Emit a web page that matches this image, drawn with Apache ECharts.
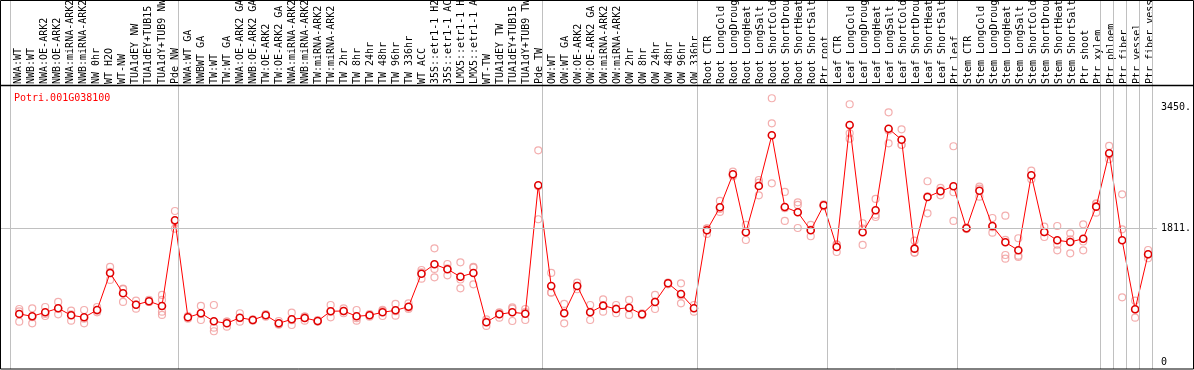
<!DOCTYPE html>
<html>
<head>
<meta charset="utf-8">
<script src="https://cdn.jsdelivr.net/npm/echarts@6/dist/echarts.min.js"></script>
<style>html,body{margin:0;padding:0;background:#fff}#c{width:1194px;height:370px}</style>
</head>
<body>
<div id="c"></div>
<script>
const title = 'Potri.001G038100';
const categories = [
 'NWA:WT','NWB:WT','NWA:OE-ARK2','NWB:OE-ARK2','NWA:miRNA-ARK2','NWB:miRNA-ARK2','NW 0hr','WT H2O','WT-NW','TUA1dEY NW','TUA1dEY+TUB15 NW','TUA1dY+TUB9 NW','Pde NW',
 'NWA:WT GA','NWBWT GA','TW:WT','TW:WT GA','NWA:OE-ARK2 GA','NWB:OE-ARK2 GA','TW:OE-ARK2','TW:OE-ARK2 GA','NWA:miRNA-ARK2 GA','NWB:miRNA-ARK2 GA','TW:miRNA-ARK2','TW:miRNA-ARK2 GA','TW 2hr','TW 8hr','TW 24hr','TW 48hr','TW 96hr','TW 336hr','WT ACC','35S::etr1-1 H2O','35S::etr1-1 ACC','LMX5::etr1-1 H2O','LMX5::etr1-1 ACC','WT-TW','TUA1dEY TW','TUA1dEY+TUB15 TW','TUA1dY+TUB9 TW','Pde TW',
 'OW:WT','OW:WT GA','OW:OE-ARK2','OW:OE-ARK2 GA','OW:miRNA-ARK2','OW:miRNA-ARK2 GA','OW 2hr','OW 8hr','OW 24hr','OW 48hr','OW 96hr','OW 336hr',
 'Root CTR','Root LongCold','Root LongDrought','Root LongHeat','Root LongSalt','Root ShortCold','Root ShortDrought','Root ShortHeat','Root ShortSalt','Ptr root',
 'Leaf CTR','Leaf LongCold','Leaf LongDrought','Leaf LongHeat','Leaf LongSalt','Leaf ShortCold','Leaf ShortDrought','Leaf ShortHeat','Leaf ShortSalt','Ptr leaf',
 'Stem CTR','Stem LongCold','Stem LongDrought','Stem LongHeat','Stem LongSalt','Stem ShortCold','Stem ShortDrought','Stem ShortHeat','Stem ShortSalt','Ptr shoot','Ptr xylem',
 'Ptr phloem','Ptr fiber','Ptr vessel','Ptr fiber vessel'
];
// shown labels (as clipped in the picture)
const displayLabels = [
 'NWA:WT','NWB:WT','NWA:OE-ARK2','NWB:OE-ARK2','NWA:miRNA-ARK2','NWB:miRNA-ARK2','NW 0hr','WT H2O','WT-NW','TUA1dEY NW','TUA1dEY+TUB15','TUA1dY+TUB9 NW','Pde NW',
 'NWA:WT GA','NWBWT GA','TW:WT','TW:WT GA','NWA:OE-ARK2 GA','NWB:OE-ARK2 GA','TW:OE-ARK2','TW:OE-ARK2 GA','NWA:miRNA-ARK2','NWB:miRNA-ARK2','TW:miRNA-ARK2','TW:miRNA-ARK2','TW 2hr','TW 8hr','TW 24hr','TW 48hr','TW 96hr','TW 336hr','WT ACC','35S::etr1-1 H2O','35S::etr1-1 ACC','LMX5::etr1-1 H2O','LMX5::etr1-1 ACC','WT-TW','TUA1dEY TW','TUA1dEY+TUB15','TUA1dY+TUB9 TW','Pde TW',
 'OW:WT','OW:WT GA','OW:OE-ARK2','OW:OE-ARK2 GA','OW:miRNA-ARK2','OW:miRNA-ARK2','OW 2hr','OW 8hr','OW 24hr','OW 48hr','OW 96hr','OW 336hr',
 'Root CTR','Root LongCold','Root LongDrought','Root LongHeat','Root LongSalt','Root ShortCold','Root ShortDrought','Root ShortHeat','Root ShortSalt','Ptr root',
 'Leaf CTR','Leaf LongCold','Leaf LongDrought','Leaf LongHeat','Leaf LongSalt','Leaf ShortCold','Leaf ShortDrought','Leaf ShortHeat','Leaf ShortSalt','Ptr leaf',
 'Stem CTR','Stem LongCold','Stem LongDrought','Stem LongHeat','Stem LongSalt','Stem ShortCold','Stem ShortDrought','Stem ShortHeat','Stem ShortSalt','Ptr shoot','Ptr xylem',
 'Ptr phloem','Ptr fiber','Ptr vessel','Ptr fiber vessel'
];
const means = [
 650,619,673,727,633,605,704,1206,931,776,822,759,1919,
 605,660,551,524,600,569,633,524,578,596,555,687,691,619,633,673,700,749,1196,1323,1256,1155,1206,538,646,673,654,2393,
 1029,660,1029,673,763,718,735,646,813,1066,921,727,
 1784,2095,2542,1757,2384,3071,2099,2028,1784,2122,
 1558,3210,1757,2055,3160,3011,1535,2235,2312,2380,
 1811,2320,1842,1621,1513,2529,1761,1648,1625,1670,2104,
 2827,1648,714,1459
];
const replicates = [
 [718,546,686],[727,524,606],[745,623,651],[813,646,722],[695,559,645],[704,524,587],[745,673,694],[1287,1111,1220],[993,813,987],[830,722,776],[840,813,813],[908,840,681,637],[2045,1806,1906],
 [623,587,605],[759,569,652],[772,465,416],[546,478,548],[660,546,594],[578,559,570],[650,614,635],[555,511,506],[668,501,565],[614,559,615],[569,548,548],[772,605,684],[727,660,686],[704,559,594],[650,614,635],[691,623,705],[786,627,687],[795,718,734],[1246,1128,1214],[1540,1260,1147],[1327,1174,1267],[1350,998,1117],[1287,1052,1279],[578,488,548],[673,600,665],[741,555,723],[718,675,569],[2867,1933,2379],
 [1206,939,942],[786,524,670],[1074,985,1028],[772,569,678],[849,681,759],[772,660,722],[840,637,728],[660,633,645],[908,718,813],[1074,1052,1072],[1066,795,902],[772,681,728],
 [1811,1734,1807],[2181,2032,2072],[2578,2533,2515],[1856,1652,1763],[2465,2258,2429],[3572,3233,2420],[2303,1910,2084],[2163,2127,1815],[1856,1703,1793],[2136,2109,2121],
 [1594,1490,1590],[3491,3098,3025],[1879,1585,1807],[2208,1964,1993],[3382,2962,3136],[3152,2939,2942],[1643,1480,1482],[2448,2014,2243],[2357,2258,2321],[2922,2299,1910],
 [1825,1800,1808],[2347,2239,2374],[1950,1751,1825],[1982,1449,1399,1654],[1676,1440,1423],[2591,2475,2521],[1833,1693,1757],[1842,1513,1589],[1743,1472,1660],[1865,1513,1632],[2150,2022,2140],
 [2926,2746,2809],[2271,1797,876],[830,600,712],[1517,1405,1455]
];
// group separators (category boundary indices)
const groupBounds = [0,13,41,53,63,73,84,85,86,87,88];
const yTickValues = [0,1811,3450];
const yTickLabels = ['0','1811.','3450.'];
const yGridValues = [1811];

const OFF = 0.715;
const meanData = means.map((v,i)=>[i+OFF, v]);
const repData = [];
replicates.forEach((arr,i)=>arr.forEach(v=>repData.push([i+OFF, v])));

const PX = 13.01;        // px per category
const X0 = 10;           // pixel of category boundary 0
const GL = 1, GR = 1160; // main grid pixel extents
const chart = echarts.init(document.getElementById('c'), null, {renderer:'canvas'});
const mono = 'DejaVu Sans Mono';
chart.setOption({
  animation:false,
  backgroundColor:'#ffffff',
  title:{text:title, left:9, top:88, textStyle:{color:'#ff0000', fontSize:10, fontWeight:'normal', fontFamily:mono}},
  grid:[
    {left:GL, width:GR-GL, top:0, height:369, containLabel:false},
    {left:12.3, width:PX*categories.length, top:85, height:1, containLabel:false}
  ],
  xAxis:[
    {type:'value', gridIndex:0, min:(GL-X0)/PX, max:(GR-X0)/PX, show:false},
    {type:'category', gridIndex:1, position:'top', data:displayLabels, boundaryGap:true,
     axisLine:{show:false}, axisTick:{show:false}, splitLine:{show:false},
     axisLabel:{interval:0, rotate:90, margin:2, fontSize:10, fontFamily:mono, color:'#000'}}
  ],
  yAxis:[
    {type:'value', gridIndex:0, position:'right', min:-95, max:4903,
     axisLine:{show:false}, axisTick:{show:false}, splitLine:{show:false},
     axisLabel:{customValues:yTickValues, margin:4, fontSize:10, fontFamily:mono, color:'#000', align:'left',
       formatter:(v)=>{const k=yTickValues.indexOf(v);return k>=0?yTickLabels[k]:'';}}},
    {type:'value', gridIndex:1, show:false}
  ],
  series:[
    {type:'scatter', xAxisIndex:0, yAxisIndex:0, data:repData, symbol:'circle', symbolSize:7,
     itemStyle:{color:'rgba(0,0,0,0)', borderColor:'#f09a9a', borderWidth:1.2}, silent:true,
     markLine:{silent:true, symbol:'none', label:{show:false}, lineStyle:{color:'#c0c0c0', width:1, type:'solid'},
       data:[...groupBounds.map(b=>({xAxis:b})), ...yGridValues.map(v=>({yAxis:v}))]}},
    {type:'line', xAxisIndex:0, yAxisIndex:0, data:meanData, symbol:'circle', symbolSize:7, showAllSymbol:true,
     lineStyle:{color:'#ff0000', width:1}, itemStyle:{color:'#ffffff', borderColor:'#e00000', borderWidth:1.6}, silent:true, z:3}
  ],
  graphic:[
    {type:'rect', shape:{x:0.5,y:0.5,width:1193,height:368.5}, style:{fill:'none', stroke:'#000', lineWidth:1}, z:10, silent:true},
    {type:'line', shape:{x1:0,y1:85.5,x2:1194,y2:85.5}, style:{stroke:'#000', lineWidth:1.5}, z:10, silent:true}
  ]
});
</script>
</body>
</html>
